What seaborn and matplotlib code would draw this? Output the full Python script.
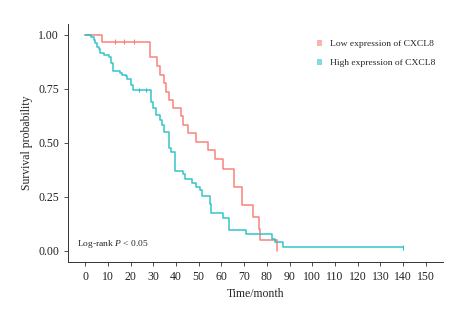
import pandas as pd
import matplotlib.pyplot as plt
import seaborn as sns
from matplotlib.patches import Patch

# Kaplan-Meier step points
low_times = [0, 7.3, 28.5, 31.5, 32.9, 34.7, 35.7, 36.8, 38.5, 42.2, 43.0, 45.2, 48.8,
             54.1, 57.0, 60.6, 65.6, 68.9, 73.9, 76.5, 77.0, 84.3]
low_surv = [1.0, 0.969, 0.896, 0.855, 0.815, 0.777, 0.738, 0.700, 0.662, 0.623, 0.585,
            0.545, 0.506, 0.467, 0.425, 0.380, 0.294, 0.211, 0.159, 0.103, 0.051, 0.0]
low_censor_t = [13, 17, 21.5]
low_censor_s = [0.969, 0.969, 0.969]

high_times = [0, 2.8, 3.7, 4.4, 5.1, 5.9, 6.6, 8.3, 10.5, 11.3, 12.4, 15.3, 16.1, 17.8,
              18.6, 20.0, 21.2, 29.0, 30.0, 31.3, 32.9, 33.8, 34.5, 36.8, 38.0, 39.5,
              43.2, 43.8, 47.0, 48.9, 50.4, 51.4, 54.8, 55.5, 60.6, 63.5, 70.6, 82.1,
              83.5, 87.2, 140.0]
high_surv = [1.0, 0.989, 0.977, 0.962, 0.946, 0.934, 0.918, 0.908, 0.897, 0.869, 0.835,
             0.826, 0.815, 0.808, 0.796, 0.769, 0.746, 0.690, 0.660, 0.631, 0.605, 0.585,
             0.551, 0.475, 0.458, 0.372, 0.354, 0.331, 0.316, 0.297, 0.281, 0.254, 0.215,
             0.177, 0.154, 0.097, 0.077, 0.057, 0.039, 0.016, 0.016]
high_censor_t = [23.5, 27, 140]
high_censor_s = [0.746, 0.746, 0.016]

groups = ['Low expression of CXCL8', 'High expression of CXCL8']
colors = {'Low expression of CXCL8': '#F8766D', 'High expression of CXCL8': '#1FBFC2'}

curves = pd.concat([
    pd.DataFrame({'time': low_times, 'surv': low_surv, 'group': groups[0]}),
    pd.DataFrame({'time': high_times, 'surv': high_surv, 'group': groups[1]}),
])
censors = pd.concat([
    pd.DataFrame({'time': low_censor_t, 'surv': low_censor_s, 'group': groups[0]}),
    pd.DataFrame({'time': high_censor_t, 'surv': high_censor_s, 'group': groups[1]}),
])

sns.set_style('ticks')
plt.rcParams['font.family'] = ['Liberation Serif', 'DejaVu Serif']
plt.rcParams['mathtext.fontset'] = 'custom'
plt.rcParams['mathtext.it'] = 'Liberation Serif:italic'
plt.rcParams['mathtext.rm'] = 'Liberation Serif'

fig = plt.figure(figsize=(4.6, 3.1), dpi=100)
ax = fig.add_axes([0.148, 0.156, 0.815, 0.766])

sns.lineplot(data=curves, x='time', y='surv', hue='group', palette=colors,
             drawstyle='steps-post', estimator=None, sort=False, linewidth=1.1,
             alpha=0.9, legend=False, ax=ax)
sns.scatterplot(data=censors, x='time', y='surv', hue='group', palette=colors,
                marker='|', s=10, linewidth=0.7, legend=False, ax=ax)

ax.set_xlim(-7.5, 157.5)
ax.set_ylim(-0.05, 1.05)
ax.set_xticks(range(0, 151, 10))
ax.set_yticks([0, 0.25, 0.5, 0.75, 1.0])
ax.set_yticklabels(['0.00', '0.25', '0.50', '0.75', '1.00'])
ax.tick_params(labelsize=8.5, length=3, width=0.6, colors='#333333', labelcolor='#222222')
ax.set_xlabel('Time/month', fontsize=8.5)
ax.set_ylabel('Survival probability', fontsize=8.5)
for side in ['top', 'right']:
    ax.spines[side].set_visible(False)
for side in ['left', 'bottom']:
    ax.spines[side].set_linewidth(0.7)
    ax.spines[side].set_color('#333333')

handles = [Patch(facecolor=colors[g], alpha=0.55, edgecolor='none') for g in groups]
ax.legend(handles, groups, loc='upper left', bbox_to_anchor=(0.64, 0.97),
          frameon=False, fontsize=6.8, handlelength=0.6, handleheight=0.6,
          handletextpad=0.8, labelspacing=1.1)

ax.text(-3.6, 0.03, r'Log-rank $\mathit{P}$ < 0.05', fontsize=6.8, va='center')

plt.savefig('out.png', dpi=100)
